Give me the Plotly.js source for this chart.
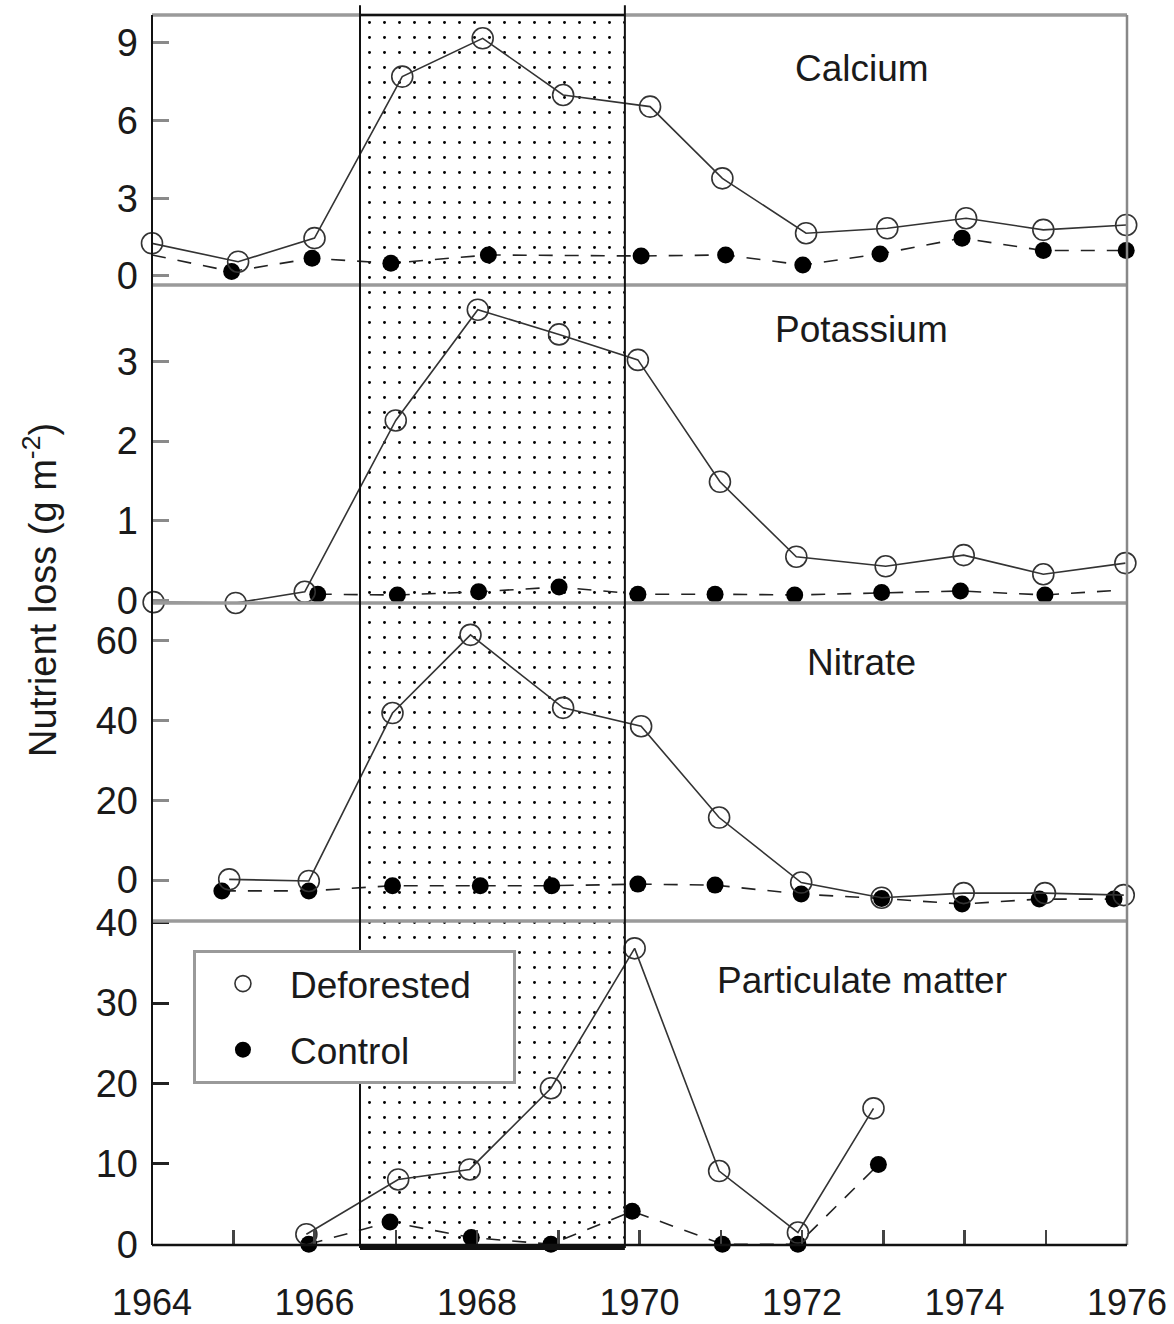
<!DOCTYPE html>
<html>
<head>
<meta charset="utf-8">
<script src="https://cdn.plot.ly/plotly-3.0.1.min.js"></script>
<style>
html,body{margin:0;padding:0;background:#fff;}
#chart{width:1174px;height:1324px;}
</style>
</head>
<body>
<div id="chart"></div>
<script>
// ---------- data ----------
const treatStart = 1966.56;   // deforestation / herbicide period (shaded box)
const treatEnd   = 1969.82;

const yearTicks  = [1964,1966,1968,1970,1972,1974,1976];
const yearLabels = ['1964','1966','1968','1970','1972','1974','1976'];

// Calcium
const caDefX  = [1964.0,1965.06,1966.0,1967.08,1968.07,1969.06,1970.13,1971.02,1972.05,1973.05,1974.02,1974.97,1975.99];
const caDefY  = [1.26,0.55,1.46,7.7,9.18,6.99,6.54,3.77,1.65,1.84,2.23,1.78,1.97];
const caCtrlX = [1964.0,1964.98,1965.97,1966.94,1968.14,1970.02,1971.06,1972.01,1972.96,1973.97,1974.97,1975.99];
const caCtrlY = [0.81,0.17,0.68,0.49,0.81,0.77,0.81,0.42,0.85,1.46,0.98,0.98];
const caCtrlDot = [0,1,1,1,1,1,1,1,1,1,1,1];

// Potassium
const kDefX  = [1964.02,1965.03,1965.88,1967.0,1968.01,1969.01,1969.98,1970.99,1971.93,1973.03,1973.99,1974.97,1975.98];
const kDefY  = [-0.02,-0.03,0.11,2.26,3.65,3.34,3.02,1.49,0.55,0.43,0.57,0.33,0.47];
const kCtrlX = [1966.04,1967.02,1968.02,1969.01,1969.98,1970.93,1971.91,1972.98,1973.95,1974.99,1975.91];
const kCtrlY = [0.08,0.07,0.11,0.17,0.08,0.08,0.07,0.10,0.12,0.07,0.13];
const kCtrlDot = [1,1,1,1,1,1,1,1,1,1,0];

// Nitrate
const nDefX  = [1964.95,1965.93,1966.96,1967.92,1969.06,1970.02,1970.98,1971.99,1972.98,1973.99,1974.99,1975.96];
const nDefY  = [0.2,-0.2,41.9,61.5,43.2,38.6,15.7,-0.6,-4.4,-3.25,-3.25,-3.75];
const nCtrlX = [1964.86,1965.93,1966.96,1968.04,1968.92,1969.98,1970.93,1971.99,1972.98,1973.97,1974.92,1975.84];
const nCtrlY = [-2.7,-2.7,-1.4,-1.4,-1.4,-1.0,-1.25,-3.5,-4.6,-6.0,-4.75,-4.75];

// Particulate matter
const pDefX  = [1965.9,1967.03,1967.91,1968.91,1969.94,1970.98,1971.95,1972.88];
const pDefY  = [1.24,8.05,9.3,19.4,36.8,9.1,1.45,16.9];
const pCtrlX = [1965.93,1966.93,1967.93,1968.91,1969.91,1971.02,1971.95,1972.94];
const pCtrlY = [0,2.76,0.83,0,4.1,0,0,9.9];

const panelNames = ['Calcium','Potassium','Nitrate','Particulate matter'];

// ---------- styling ----------
const FONT = 'Arial, "Liberation Sans", Helvetica, sans-serif';
const TXT = '#1a1a1a';
const DEF_SIZE = 21, CTRL_SIZE = 17;

function defTrace(x, y, n) {
  return {
    type:'scatter', mode:'lines+markers', x:x, y:y,
    xaxis:'x'+n, yaxis:'y'+n, cliponaxis:false, hoverinfo:'skip', showlegend:false,
    line:{color:'#333', width:1.6},
    marker:{symbol:'circle-open', size:DEF_SIZE, color:'#333', opacity:1, line:{width:1.6}}
  };
}
function ctrlTrace(x, y, n, dots) {
  return {
    type:'scatter', mode:'lines+markers', x:x, y:y,
    xaxis:'x'+n, yaxis:'y'+n, cliponaxis:false, hoverinfo:'skip', showlegend:false,
    connectgaps:true,
    line:{color:'#222', width:1.6, dash:'14px,12px'},
    marker:{symbol:'circle', size: dots ? dots.map(d => d ? CTRL_SIZE : 0) : CTRL_SIZE,
            color:'#000', opacity:1, line:{width:0}}
  };
}

const traces = [
  // dotted treatment box (full plot height, own overlay axes)
  {type:'scatter', x:[treatStart,treatEnd,treatEnd,treatStart,treatStart], y:[0,0,1,1,0],
   xaxis:'x', yaxis:'y', mode:'none', fill:'toself', fillcolor:'rgba(0,0,0,0)',
   fillpattern:{shape:'.', size:15, solidity:0.03, fgcolor:'#000', bgcolor:'rgba(0,0,0,0)'},
   hoverinfo:'skip', showlegend:false},
  ctrlTrace(caCtrlX, caCtrlY, 2, caCtrlDot), defTrace(caDefX, caDefY, 2),
  ctrlTrace(kCtrlX, kCtrlY, 3, kCtrlDot),   defTrace(kDefX, kDefY, 3),
  ctrlTrace(nCtrlX, nCtrlY, 4),             defTrace(nDefX, nDefY, 4),
  ctrlTrace(pCtrlX, pCtrlY, 5),             defTrace(pDefX, pDefY, 5),
  // legend entries
  {type:'scatter', mode:'markers', x:[null], y:[null], xaxis:'x5', yaxis:'y5', name:'Deforested\u2003',
   legendgroup:'a', marker:{symbol:'circle-open', size:DEF_SIZE, color:'#333', line:{width:1.6}}},
  {type:'scatter', mode:'markers', x:[null], y:[null], xaxis:'x5', yaxis:'y5', name:'Control',
   legendgroup:'b', marker:{symbol:'circle', size:CTRL_SIZE, color:'#000'}}
];

// panel domains (fractions of plot height, bottom -> top)
const dP = [0, 0.2634], dN = [0.2634, 0.5220], dK = [0.5220, 0.7805], dC = [0.7805, 1];

function yax(domain, range, tickvals, tickcolor) {
  return {domain:domain, range:range, tickvals:tickvals, ticks:'inside', ticklen:17, tickwidth:3,
    tickcolor:tickcolor, showline:false, showgrid:false, zeroline:false, fixedrange:true,
    tickfont:{family:FONT, size:38, color:TXT}, ticklabelstandoff:13};
}
function xax(anchor, showLabels) {
  const a = {domain:[0,1], range:[1964,1976], anchor:anchor, showgrid:false, zeroline:false,
    showline:false, fixedrange:true};
  if (showLabels) {
    Object.assign(a, {tickmode:'array', tickvals:yearTicks, ticktext:yearLabels, ticks:'inside', ticklen:15,
      tickwidth:2.5, tickcolor:'#444', tickfont:{family:FONT, size:36, color:TXT}, ticklabelstandoff:33,
      minor:{ticks:'inside', dtick:1, tick0:1964, ticklen:15, tickwidth:2.5, tickcolor:'#444', showgrid:false}});
  } else {
    Object.assign(a, {showticklabels:false, ticks:''});
  }
  return a;
}

const GRAY = '#9a9a9a';
const shapes = [
  {type:'line', xref:'paper', yref:'paper', x0:0, x1:1, y0:1, y1:1, line:{color:GRAY, width:3.5}},
  {type:'line', xref:'paper', yref:'paper', x0:0, x1:1, y0:dC[0], y1:dC[0], line:{color:GRAY, width:3.5}},
  {type:'line', xref:'paper', yref:'paper', x0:0, x1:1, y0:dK[0], y1:dK[0], line:{color:GRAY, width:3.5}},
  {type:'line', xref:'paper', yref:'paper', x0:0, x1:1, y0:dN[0], y1:dN[0], line:{color:GRAY, width:3.5}},
  {type:'line', xref:'paper', yref:'paper', x0:1, x1:1, y0:0, y1:1, line:{color:'#888', width:2.5}},
  {type:'line', xref:'paper', yref:'paper', x0:0, x1:0, y0:0, y1:1, line:{color:'#111', width:2}},
  {type:'line', xref:'paper', yref:'paper', x0:0, x1:1, y0:0, y1:0, line:{color:'#111', width:2.5}},
  // treatment box outline
  {type:'line', xref:'x', yref:'paper', x0:treatStart, x1:treatStart, y0:-0.0024, y1:1.008, line:{color:'#111', width:2}},
  {type:'line', xref:'x', yref:'paper', x0:treatEnd, x1:treatEnd, y0:-0.0024, y1:1.008, line:{color:'#111', width:2}},
  {type:'line', xref:'x', yref:'paper', x0:treatStart, x1:treatEnd, y0:1, y1:1, line:{color:'#111', width:2}},
  {type:'line', xref:'x', yref:'paper', x0:treatStart, x1:treatEnd, y0:-0.0024, y1:-0.0024, line:{color:'#111', width:4}}
];

const labelY = [0.9565, 0.7447, 0.4732, 0.2154];
const annotations = panelNames.map((t, i) => ({
  text:t, xref:'paper', yref:'paper', x:0.728, y:labelY[i], xanchor:'center', yanchor:'middle',
  showarrow:false, font:{family:FONT, size:37, color:TXT}
}));
annotations.push({
  text:'Nutrient loss (g m<sup>-2</sup>)', xref:'paper', yref:'paper', x:-0.115, y:0.5325,
  xanchor:'center', yanchor:'middle', textangle:-90, showarrow:false,
  font:{family:FONT, size:38, color:TXT}
});

const layout = {
  width:1174, height:1324,
  margin:{l:152, r:47, t:15, b:79, pad:0},
  paper_bgcolor:'#fff', plot_bgcolor:'rgba(0,0,0,0)',
  showlegend:true,
  legend:{x:0.042, y:0.2398, xanchor:'left', yanchor:'top', bgcolor:'#fff',
    bordercolor:GRAY, borderwidth:3, font:{family:FONT, size:37, color:TXT},
    itemwidth:84, tracegroupgap:15, traceorder:'grouped'},
  xaxis:{domain:[0,1], range:[1964,1976], visible:false, fixedrange:true},
  yaxis:{domain:[0,1], range:[0,1], visible:false, fixedrange:true},
  xaxis2:xax('y2', false), xaxis3:xax('y3', false), xaxis4:xax('y4', false), xaxis5:xax('y5', true),
  yaxis2:yax(dC, [-0.35, 10.08], [0,3,6,9], '#8a8a8a'),
  yaxis3:yax(dK, [-0.03, 3.96], [0,1,2,3], '#8a8a8a'),
  yaxis4:yax(dN, [-10.25, 69.5], [0,20,40,60], '#8a8a8a'),
  yaxis5:yax(dP, [-0.1, 40.2], [0,10,20,30,40], '#222'),
  shapes:shapes, annotations:annotations
};
layout.yaxis2.anchor = 'x2'; layout.yaxis3.anchor = 'x3';
layout.yaxis4.anchor = 'x4'; layout.yaxis5.anchor = 'x5';

Plotly.newPlot('chart', traces, layout, {staticPlot:true, displayModeBar:false});
</script>
</body>
</html>
